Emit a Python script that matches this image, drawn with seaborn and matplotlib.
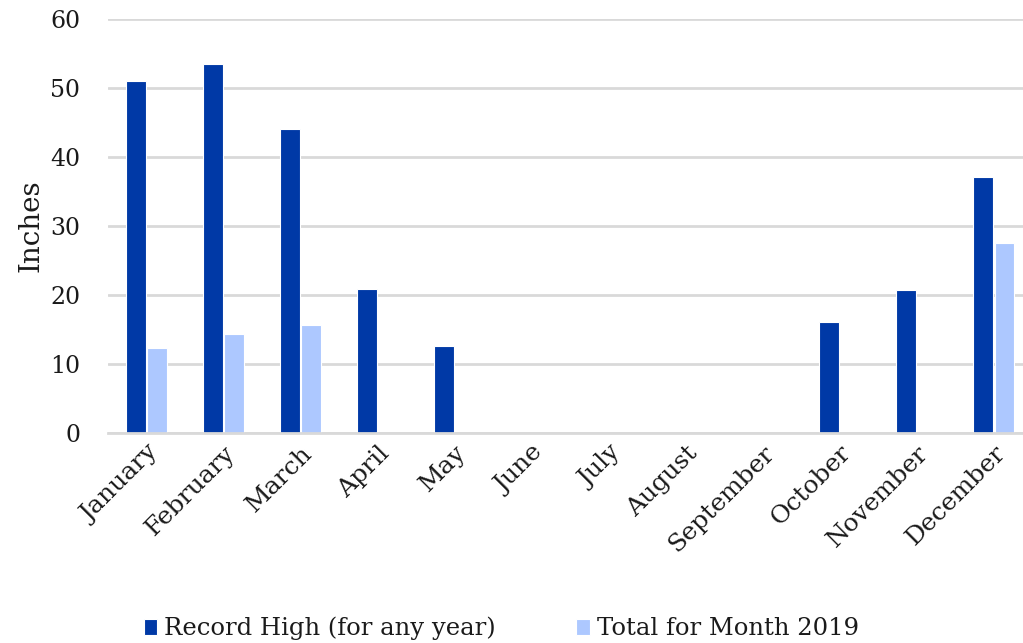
import pandas as pd
import seaborn as sns
import matplotlib.pyplot as plt

# Data
months = ['January', 'February', 'March', 'April', 'May', 'June', 'July', 'August',
          'September', 'October', 'November', 'December']
record_high = [51.0, 53.5, 44.1, 20.9, 12.6, 0, 0, 0, 0, 16.1, 20.7, 37.1]
total_2019 = [12.3, 14.3, 15.7, 0, 0, 0, 0, 0, 0, 0, 0, 27.5]
series = ['Record High (for any year)', 'Total for Month 2019']

df = pd.DataFrame({
    'Month': months * 2,
    'Inches': record_high + total_2019,
    'Series': [series[0]] * len(months) + [series[1]] * len(months),
})

sns.set_style("white")
plt.rcParams['font.family'] = ['DejaVu Serif']

palette = ['#0039A6', '#ADC8FF']
text_color = '#1a1a1a'

fig = plt.figure(figsize=(10.23, 6.43), dpi=100)
ax = fig.add_axes([108 / 1023, 1 - 433 / 643, 1 - 108 / 1023, (433 - 19) / 643])

sns.barplot(data=df, x='Month', y='Inches', hue='Series', order=months, hue_order=series,
            palette=palette, width=0.55, gap=0.08, edgecolor='white', linewidth=0.8,
            saturation=1.0, ax=ax)

ax.set_ylim(0, 60)
ax.set_yticks(range(0, 61, 10))
ax.set_xlim(-0.5, 11.38)
ax.yaxis.grid(True, color='#D9D9D9', linewidth=2)
ax.set_axisbelow(True)
sns.despine(ax=ax, left=True, top=True, right=True)
ax.spines['bottom'].set_color('#D9D9D9')
ax.spines['bottom'].set_linewidth(2)
ax.tick_params(axis='both', length=0, labelsize=17, colors=text_color)
ax.tick_params(axis='x', labelsize=18, pad=6)
ax.tick_params(axis='y', pad=20)
for lab in ax.get_xticklabels():
    lab.set_rotation(45)
    lab.set_ha('right')
    lab.set_rotation_mode('anchor')
ax.set_xlabel('')
ax.set_ylabel('Inches', fontsize=20, color=text_color, labelpad=4)

handles, labels = ax.get_legend_handles_labels()
ax.legend(handles, labels, loc='lower center', bbox_to_anchor=(0.49, -0.03),
          bbox_transform=fig.transFigure, ncol=2, frameon=False, fontsize=17.5,
          labelcolor=text_color, handlelength=0.55, handleheight=0.6, handletextpad=0.3,
          columnspacing=3.3)

fig.savefig('out.png', dpi=100)
